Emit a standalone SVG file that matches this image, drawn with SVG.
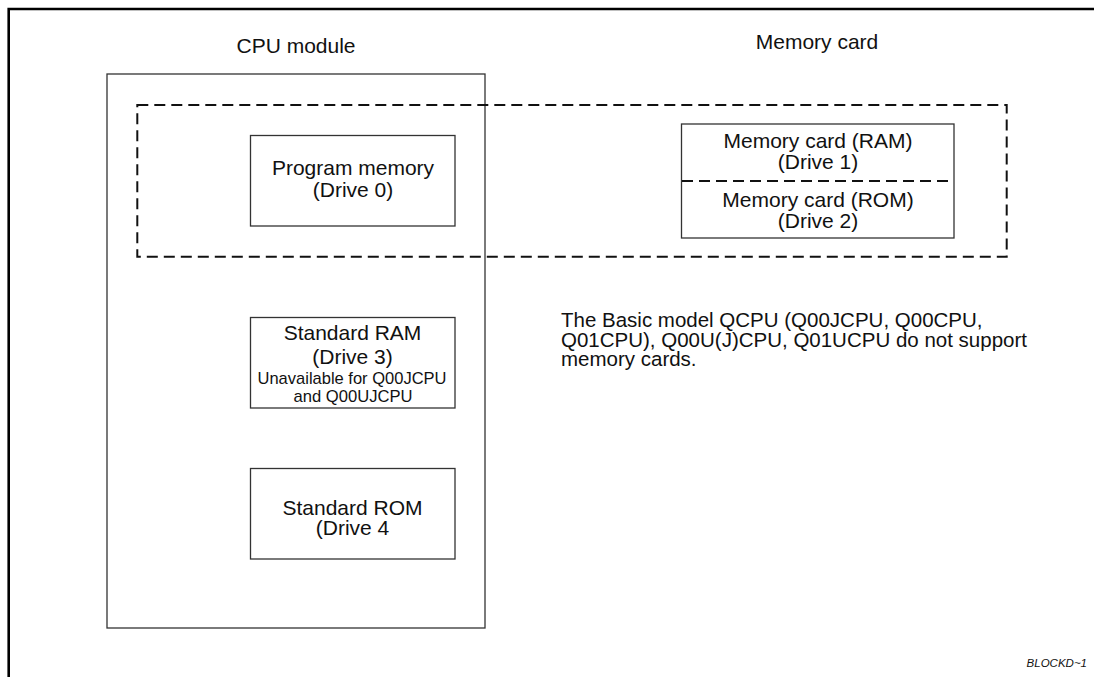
<svg xmlns="http://www.w3.org/2000/svg" width="1094" height="677" viewBox="0 0 1094 677">
  <style>
    text { font-family: "Liberation Sans", Arial, sans-serif; fill: #111; }
    .box { fill: #fff; stroke: #333; stroke-width: 1.3; }
    .dash { fill: none; stroke: #111; stroke-width: 2; stroke-dasharray: 11 6; }
    .lbl { font-size: 21px; text-anchor: middle; }
    .small { font-size: 17px; text-anchor: middle; }
  </style>
  <rect width="1094" height="677" fill="#fff"/>
  <!-- page frame -->
  <path d="M8.7,677 V9 H1094" fill="none" stroke="#000" stroke-width="2.6"/>

  <text x="296" y="52.5" class="lbl">CPU module</text>
  <text x="817" y="48.5" class="lbl">Memory card</text>

  <!-- CPU module enclosure -->
  <g id="cpu-module">
    <rect x="107" y="74" width="378" height="554" class="box"/>
  </g>

  <g id="program-memory">
    <rect x="250.5" y="135.5" width="204.5" height="90.5" class="box"/>
    <text x="353" y="175" class="lbl">Program memory</text>
    <text x="353" y="196.5" class="lbl">(Drive 0)</text>
  </g>

  <g id="memory-card">
    <rect x="681.5" y="124" width="272.5" height="114" class="box"/>
    <line x1="682" y1="181" x2="954" y2="181" stroke="#111" stroke-width="2" stroke-dasharray="11 6"/>
    <text x="818" y="148" class="lbl">Memory card (RAM)</text>
    <text x="818" y="169" class="lbl">(Drive 1)</text>
    <text x="818" y="207" class="lbl">Memory card (ROM)</text>
    <text x="818" y="228" class="lbl">(Drive 2)</text>
  </g>

  <g id="standard-ram">
    <rect x="250.5" y="317.5" width="204.5" height="90.5" class="box"/>
    <text x="352.5" y="339.5" class="lbl">Standard RAM</text>
    <text x="352.5" y="363.5" class="lbl">(Drive 3)</text>
    <text x="352" y="384" class="small" textLength="189" lengthAdjust="spacingAndGlyphs">Unavailable for Q00JCPU</text>
    <text x="353" y="401.5" class="small" textLength="119" lengthAdjust="spacingAndGlyphs">and Q00UJCPU</text>
  </g>

  <g id="standard-rom">
    <rect x="250.5" y="468.5" width="204.5" height="90.5" class="box"/>
    <text x="352.5" y="514.5" class="lbl">Standard ROM</text>
    <text x="352.5" y="535" class="lbl">(Drive 4</text>
  </g>

  <!-- dashed grouping of the drives usable as file storage -->
  <g id="connectors">
    <rect x="137.3" y="105" width="869.4" height="151.7" class="dash"/>
  </g>

  <g font-size="20.5">
    <text x="561" y="327">The Basic model QCPU (Q00JCPU, Q00CPU,</text>
    <text x="561" y="346.5">Q01CPU), Q00U(J)CPU, Q01UCPU do not support</text>
    <text x="561" y="366">memory cards.</text>
  </g>

  <text x="1087" y="666.5" font-size="11.5" font-style="italic" text-anchor="end">BLOCKD~1</text>
</svg>
